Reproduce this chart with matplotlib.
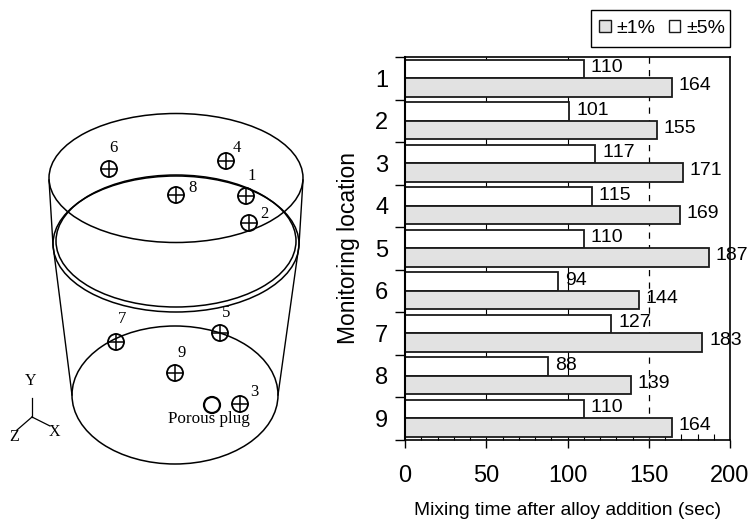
import matplotlib
matplotlib.use('Agg')
import matplotlib.pyplot as plt
from matplotlib.patches import Ellipse, Circle, Patch, Rectangle
import numpy as np

plt.rcParams['font.family'] = ['Liberation Sans', 'DejaVu Sans']
plt.rcParams['text.kerning_factor'] = 6

# Datos
locations = ['1', '2', '3', '4', '5', '6', '7', '8', '9']
mix_5pct = [110, 101, 117, 115, 110, 94, 127, 88, 110]
mix_1pct = [164, 155, 171, 169, 187, 144, 183, 139, 164]

# Esquema del horno, en pixeles de la imagen
rims = [(176, 178, 254, 129), (176, 241, 240, 132), (176, 244, 246, 136), (175, 395, 206, 138)]
walls = [([49, 53, 72], [180, 245, 395]), ([303, 299, 278], [180, 245, 395])]
probes = {'1': (246, 196), '2': (249, 223), '3': (240, 404), '4': (226, 161), '5': (220, 333),
          '6': (109, 169), '7': (116, 342), '8': (176, 195), '9': (175, 373)}
probe_labels = {'1': (252, 176), '2': (264, 214), '3': (254, 392), '4': (237, 148), '5': (226, 313),
                '6': (113, 148), '7': (122, 319), '8': (193, 188), '9': (182, 353)}
plug = (212, 405)
origin = (32, 417)
triad = {'Y': (32, 398), 'X': (50, 426), 'Z': (17, 430)}
triad_labels = {'Y': (31, 381), 'X': (54, 432), 'Z': (14, 437)}

W, H = 749, 521
fig = plt.figure(figsize=(W / 100, H / 100), dpi=100)

# Panel izquierdo
sk = fig.add_axes([0, 0, 1, 1])
sk.set_xlim(0, W)
sk.set_ylim(H, 0)
sk.axis('off')
for cx, cy, w, h in rims:
    sk.add_patch(Ellipse((cx, cy), w, h, fill=False, ec='black', lw=1.1))
for xs, ys in walls:
    sk.plot(xs, ys, color='black', lw=1.0)
for k, (px, py) in probes.items():
    sk.add_patch(Circle((px, py), 8, fill=False, ec='black', lw=1.3))
    sk.plot([px - 8, px + 8], [py, py], color='black', lw=1.1)
    sk.plot([px, px], [py - 8, py + 8], color='black', lw=1.1)
    lx, ly = probe_labels[k]
    sk.text(lx, ly, k, family='Liberation Serif', fontsize=12, ha='center', va='center')
sk.add_patch(Circle(plug, 8, fill=False, ec='black', lw=1.6))
sk.text(209, 419, 'Porous plug', family='Liberation Serif', fontsize=12.3, ha='center', va='center')
for k, (tx, ty) in triad.items():
    sk.plot([origin[0], tx], [origin[1], ty], color='black', lw=0.9)
    lx, ly = triad_labels[k]
    sk.text(lx, ly, k, family='Liberation Serif', fontsize=11.5, ha='center', va='center')

# Caja de la leyenda
sk.add_patch(Rectangle((591, 10), 139, 37, fill=False, ec='black', lw=1.0))

# Panel derecho
ax = fig.add_axes([405 / W, 1 - 439.5 / H, 325 / W, 382.5 / H])
y = np.arange(len(locations))
bar_h = 0.43
ax.vlines([50, 100], -0.5, 8.5, color='black', lw=0.8, zorder=1)
ax.vlines(150, -0.5, 8.5, color='black', lw=0.9, linestyles=(0, (5, 5)), zorder=1)
ax.barh(y - bar_h / 2, mix_5pct, bar_h, color='white', edgecolor='#1a1a1a', lw=1.3, zorder=2)
ax.barh(y + bar_h / 2, mix_1pct, bar_h, color='#e2e2e2', edgecolor='#1a1a1a', lw=1.3, zorder=2)
for i in range(len(locations)):
    ax.annotate(str(mix_5pct[i]), (mix_5pct[i], y[i] - bar_h / 2), xytext=(5, 1), textcoords='offset points',
                fontsize=14, va='center', zorder=3)
    ax.annotate(str(mix_1pct[i]), (mix_1pct[i], y[i] + bar_h / 2), xytext=(5, 1), textcoords='offset points',
                fontsize=14, va='center', zorder=3)

ax.set_xlim(0, 200)
ax.set_ylim(8.5, -0.5)
ax.set_xticks([0, 50, 100, 150, 200])
ax.set_xticks(np.arange(0, 201, 10), minor=True)
ax.set_yticks(np.arange(-0.5, 9, 1))
ax.set_yticklabels([])
ax.set_yticks(y, labels=locations, minor=True)
ax.tick_params(axis='x', which='major', length=6, width=1, labelsize=17, pad=12)
ax.tick_params(axis='x', which='minor', direction='in', length=4, width=0.8)
ax.tick_params(axis='y', which='major', length=7, width=1)
ax.tick_params(axis='y', which='minor', length=0, labelsize=17, pad=12)
for s in ax.spines.values():
    s.set_linewidth(1.2)
ax.spines['left'].set_linewidth(1.5)
ax.set_xlabel('Mixing time after alloy addition (sec)', fontsize=13.9, labelpad=11)
ax.set_ylabel('Monitoring location', fontsize=16.5, labelpad=11)

handles = [Patch(facecolor='#e2e2e2', edgecolor='#1a1a1a', label='±1%'),
           Patch(facecolor='white', edgecolor='#1a1a1a', label='±5%')]
fig.legend(handles=handles, ncol=2, loc='center left', bbox_to_anchor=(599 / W, 1 - 28.5 / H), fontsize=14,
           frameon=False, handlelength=0.6, handleheight=0.55,
           handletextpad=0.3, columnspacing=0.67, borderaxespad=0, borderpad=0)

plt.savefig('out.png', dpi=100)
